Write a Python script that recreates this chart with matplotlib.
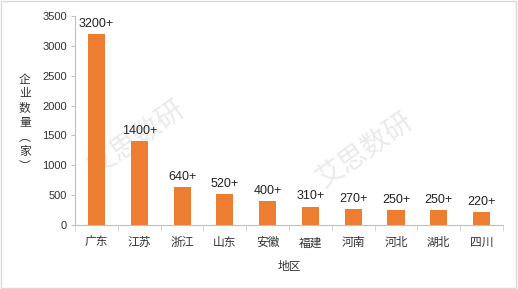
import matplotlib
matplotlib.use("Agg")
import matplotlib.pyplot as plt
from matplotlib.patches import Rectangle

plt.rcParams['font.family'] = ['Liberation Sans', 'Noto Sans CJK SC', 'DejaVu Sans']

regions = ["广东", "江苏", "浙江", "山东", "安徽", "福建", "河南", "河北", "湖北", "四川"]
counts = [3200, 1400, 640, 520, 400, 310, 270, 250, 250, 220]
labels = ["3200+", "1400+", "640+", "520+", "400+", "310+", "270+", "250+", "250+", "220+"]
yticks = [0, 500, 1000, 1500, 2000, 2500, 3000, 3500]

fig = plt.figure(figsize=(5.18, 2.89), dpi=100)
ax = fig.add_axes([0.145, 0.221, 0.826, 0.724])
ax.patch.set_alpha(0)

x = list(range(len(regions)))
bars = ax.bar(x, counts, width=0.4, color="#ED7D31", zorder=2)
for xi, v, lab in zip(x, counts, labels):
    ax.text(xi, v + 70, lab, ha="center", va="bottom", fontsize=9, color="#222222")

ax.set_xlim(-0.5, len(regions) - 0.5)
ax.set_ylim(0, 3500)
ax.set_yticks(yticks)
ax.set_yticklabels([str(t) for t in yticks], fontsize=8, color="#333333")
ax.set_xticks(x)
ax.set_xticklabels(regions, fontsize=8.5, color="#333333", family=['Noto Sans CJK SC'])
ax.set_xticks([i + 0.5 for i in range(-1, len(regions))], minor=True)
ax.tick_params(axis="x", which="major", length=0, pad=8)
ax.tick_params(axis="x", which="minor", length=4, color="#D0D0D0")
ax.tick_params(axis="y", length=3, color="#BFBFBF", pad=3)

for side in ["top", "right"]:
    ax.spines[side].set_visible(False)
for side in ["left", "bottom"]:
    ax.spines[side].set_color("#BFBFBF")
    ax.spines[side].set_linewidth(0.8)

ax.set_xlabel("地区", fontsize=8.5, color="#333333", family=['Noto Sans CJK SC'], labelpad=8)

fig.text(0.048, 0.575, "企\n业\n数\n量\n︵\n家\n︶", ha="center", va="center",
         fontsize=8.5, color="#333333", family=['Noto Sans CJK SC'], linespacing=1.15)

# watermark behind the chart
for cx, cy in [(0.265, 0.52), (0.705, 0.48)]:
    fig.text(cx, cy, "艾思数研", ha="center", va="center", rotation=35, fontsize=20,
             color="#EAEAEA", family=['Noto Sans CJK SC'], zorder=-1)

fig.patches.append(Rectangle((0.002, 0.003), 0.995, 0.994, transform=fig.transFigure,
                             fill=False, edgecolor="#D9D9D9", linewidth=1))

fig.savefig("out.png", dpi=100)
